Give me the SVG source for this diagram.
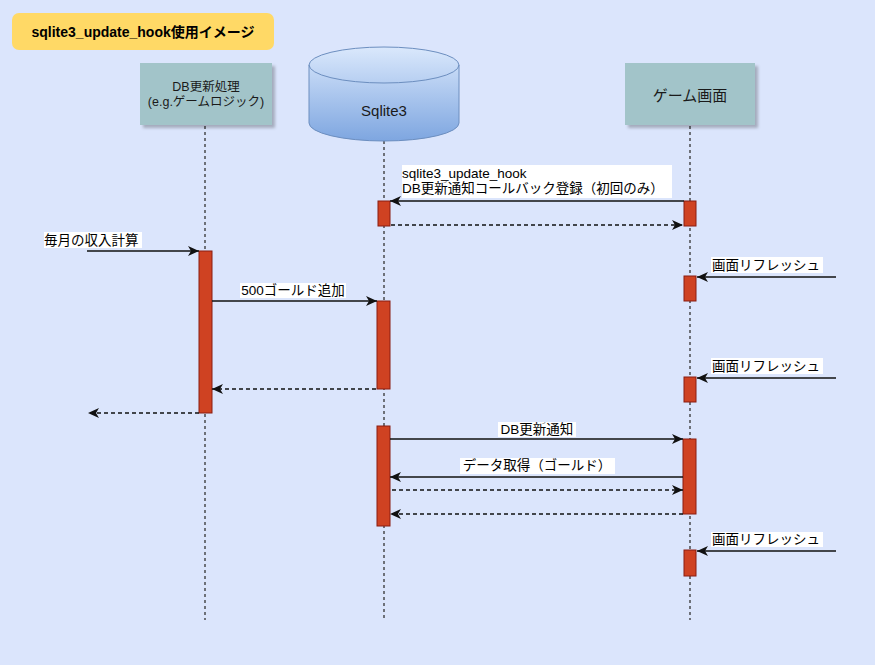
<svg xmlns="http://www.w3.org/2000/svg" width="875" height="665" viewBox="0 0 875 665">
<defs>
<style>
.t{font-family:"Liberation Sans","Noto Sans CJK JP",sans-serif;font-size:13.5px;fill:#000}
.tn{font-family:"Liberation Sans","Noto Sans CJK JP",sans-serif;font-size:12.5px;fill:#1a1a1a;text-anchor:middle}
.life{stroke:#333;stroke-width:1.3;stroke-dasharray:3 3;fill:none}
.act{fill:#cf4222;stroke:#8a1c10;stroke-width:1}
.msg{stroke:#111;stroke-width:1.3;fill:none;marker-end:url(#ah)}
.ret{stroke:#111;stroke-width:1.3;fill:none;stroke-dasharray:4 3;marker-end:url(#ah)}
.lb{fill:#fff}
.node{fill:#a2c4c9;filter:url(#sh)}
</style>
<marker id="ah" markerUnits="userSpaceOnUse" markerWidth="12" markerHeight="10" refX="11" refY="5" orient="auto">
<path d="M0,0 L11,5 L0,10 L3,5 Z" fill="#111"/>
</marker>
<filter id="sh" x="-10%" y="-10%" width="130%" height="130%">
<feDropShadow dx="3" dy="3" stdDeviation="1.5" flood-color="#000" flood-opacity="0.25"/>
</filter>
<linearGradient id="cyl" x1="0" y1="0" x2="0" y2="1">
<stop offset="0" stop-color="#dae8fc"/>
<stop offset="1" stop-color="#7ea6e0"/>
</linearGradient>
</defs>
<rect x="0" y="0" width="875" height="665" fill="#dbe5fc"/>

<g id="title">
<rect x="12" y="13" width="262" height="37" rx="7" fill="#ffd966"/>
<text x="143" y="37" text-anchor="middle" style="font-family:'Liberation Sans','Noto Sans CJK JP',sans-serif;font-size:14px;font-weight:bold">sqlite3_update_hook使用イメージ</text>
</g>

<g id="lifelines">
<line class="life" x1="205" y1="126" x2="205" y2="620"/>
<line class="life" x1="384" y1="141" x2="384" y2="620"/>
<line class="life" x1="690" y1="126" x2="690" y2="620"/>
</g>

<g id="node-db">
<rect class="node" x="140" y="63" width="132" height="62"/>
<text class="tn" x="206" y="91">DB更新処理</text>
<text class="tn" x="206" y="106">(e.g.ゲームロジック)</text>
</g>

<g id="node-sqlite">
<path d="M309,65 a75,18 0 0 1 150,0 V123 a75,18 0 0 1 -150,0 Z" fill="url(#cyl)" stroke="#6c8ebf" stroke-width="1"/>
<path d="M309,65 a75,18 0 0 0 150,0" fill="none" stroke="#6c8ebf" stroke-width="1"/>
<text x="384" y="116" text-anchor="middle" style="font-family:'Liberation Sans',sans-serif;font-size:15px;fill:#1a1a1a">Sqlite3</text>
</g>

<g id="node-game">
<rect class="node" x="625" y="63" width="130" height="62"/>
<text x="690" y="101" text-anchor="middle" style="font-family:'Liberation Sans','Noto Sans CJK JP',sans-serif;font-size:15px;fill:#1a1a1a">ゲーム画面</text>
</g>

<g id="activations">
<rect class="act" x="378" y="201" width="12" height="25"/>
<rect class="act" x="684" y="201" width="12" height="25"/>
<rect class="act" x="199" y="251" width="13" height="162"/>
<rect class="act" x="377" y="301" width="13" height="88"/>
<rect class="act" x="684" y="276" width="12" height="25"/>
<rect class="act" x="684" y="377" width="12" height="25"/>
<rect class="act" x="377" y="426" width="13" height="100"/>
<rect class="act" x="683" y="439" width="13" height="75"/>
<rect class="act" x="684" y="550" width="12" height="26"/>
</g>

<g id="connectors">
<line class="msg" x1="684" y1="201" x2="390" y2="201"/>
<line class="ret" x1="391" y1="225" x2="683" y2="225"/>
<line class="msg" x1="87" y1="251" x2="199" y2="251"/>
<line class="msg" x1="212" y1="301" x2="377" y2="301"/>
<line class="ret" x1="376" y1="389" x2="212" y2="389"/>
<line class="ret" x1="199" y1="413" x2="88" y2="413"/>
<line class="msg" x1="836" y1="277" x2="697" y2="277"/>
<line class="msg" x1="836" y1="378" x2="697" y2="378"/>
<line class="msg" x1="390" y1="439" x2="683" y2="439"/>
<line class="msg" x1="683" y1="477" x2="390" y2="477"/>
<line class="ret" x1="392" y1="490" x2="683" y2="490"/>
<line class="ret" x1="683" y1="514" x2="390" y2="514"/>
<line class="msg" x1="836" y1="551" x2="697" y2="551"/>
</g>

<g id="labels">
<rect class="lb" x="402" y="165" width="270" height="33"/>
<text class="t" x="402" y="178">sqlite3_update_hook</text>
<text class="t" x="402" y="193">DB更新通知コールバック登録（初回のみ）</text>
<rect class="lb" x="44" y="232" width="98" height="16"/>
<text class="t" x="44" y="245">毎月の収入計算</text>
<rect class="lb" x="240" y="283" width="106" height="15"/>
<text class="t" x="293" y="295" text-anchor="middle">500ゴールド追加</text>
<rect class="lb" x="711" y="257" width="112" height="16"/>
<text class="t" x="712" y="270">画面リフレッシュ</text>
<rect class="lb" x="711" y="358" width="112" height="16"/>
<text class="t" x="712" y="371">画面リフレッシュ</text>
<rect class="lb" x="498" y="422" width="78" height="15"/>
<text class="t" x="537" y="434" text-anchor="middle">DB更新通知</text>
<rect class="lb" x="460" y="458" width="155" height="16"/>
<text class="t" x="537" y="470" text-anchor="middle">データ取得（ゴールド）</text>
<rect class="lb" x="711" y="532" width="112" height="15"/>
<text class="t" x="712" y="544">画面リフレッシュ</text>
</g>
</svg>
